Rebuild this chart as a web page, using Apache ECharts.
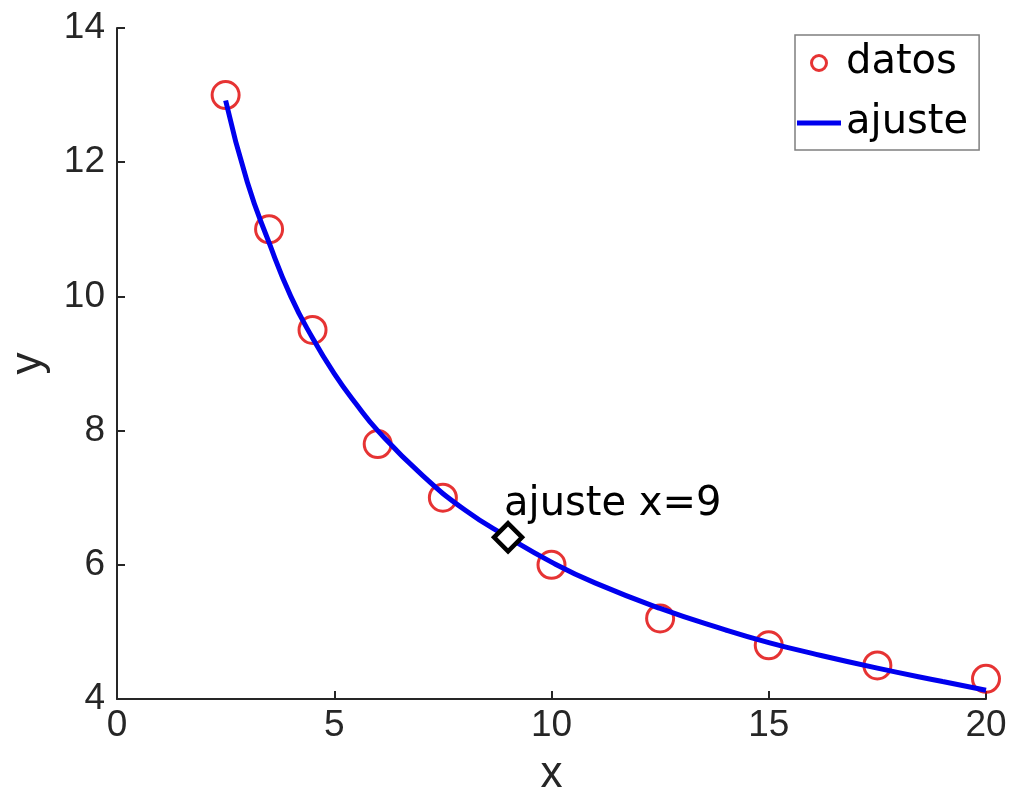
<!DOCTYPE html>
<html>
<head>
<meta charset="utf-8">
<script src="https://cdn.jsdelivr.net/npm/echarts@6/dist/echarts.min.js"></script>
<style>html,body{margin:0;padding:0;background:#fff;}#chart{width:1018px;height:795px;}</style>
</head>
<body>
<div id="chart"></div>
<script>
// Measured data points (datos)
const datosX = [2.5, 3.5, 4.5, 6, 7.5, 10, 12.5, 15, 17.5, 20];
const datosY = [13.0, 11.0, 9.5, 7.8, 7.0, 6.0, 5.2, 4.8, 4.5, 4.3];
// Fitted curve (ajuste)
const ajusteX = [2.5, 3, 3.5, 4, 4.5, 5, 5.5, 6, 7, 8, 9, 10, 11, 12.5, 14, 15, 16, 17.5, 19, 20];
const ajusteY = [12.92, 11.7, 10.8, 10.0, 9.38, 8.85, 8.4, 8.0, 7.35, 6.82, 6.41, 6.04, 5.73, 5.35, 5.03, 4.84, 4.68, 4.46, 4.26, 4.13];
// Annotated point
const markX = [9];
const markY = [6.41];
const markLabel = 'ajuste x=9';
const xTicks = [0, 5, 10, 15, 20];
const yTicks = [4, 6, 8, 10, 12, 14];

const FONT = '"Liberation Sans", Arial, sans-serif';
const FONT2 = '"DejaVu Sans", sans-serif';
const AX = '#262626';

const chart = echarts.init(document.getElementById('chart'), null, {renderer: 'canvas'});
chart.setOption({
  backgroundColor: '#ffffff',
  animation: false,
  grid: {left: 117, right: 32, top: 28, bottom: 96, containLabel: false, outerBoundsMode: 'none'},
  xAxis: {
    type: 'value', min: xTicks[0], max: xTicks[xTicks.length - 1], interval: 5,
    name: 'x', nameLocation: 'middle', nameGap: 54,
    nameTextStyle: {fontFamily: FONT, fontSize: 44, color: AX},
    axisLine: {show: true, lineStyle: {color: AX, width: 2}},
    axisTick: {show: true, inside: true, length: 8, lineStyle: {color: AX, width: 2}},
    axisLabel: {fontFamily: FONT, fontSize: 37, color: AX, margin: 8},
    splitLine: {show: false}
  },
  yAxis: {
    type: 'value', min: yTicks[0], max: yTicks[yTicks.length - 1], interval: 2,
    name: 'y', nameLocation: 'middle', nameGap: 66,
    nameTextStyle: {fontFamily: FONT, fontSize: 44, color: AX},
    axisLine: {show: true, lineStyle: {color: AX, width: 2}},
    axisTick: {show: true, inside: true, length: 8, lineStyle: {color: AX, width: 2}},
    axisLabel: {fontFamily: FONT, fontSize: 37, color: AX, margin: 12},
    splitLine: {show: false}
  },
  legend: {
    left: 795, top: 35, orient: 'vertical',
    padding: [8, 11, 7, 2],
    itemWidth: 44, itemHeight: 15, itemGap: 20,
    borderColor: '#7f7f7f', borderWidth: 1.5, backgroundColor: '#ffffff',
    textStyle: {fontFamily: FONT2, fontSize: 40, color: '#000'},
    data: [
      {name: 'datos', icon: 'circle', itemStyle: {color: 'rgba(0,0,0,0)', borderColor: '#e00000', borderWidth: 3}},
      {name: 'ajuste', icon: 'path://M0,0H44V5H0Z', itemStyle: {color: '#0000ee'}}
    ]
  },
  series: [
    {
      name: 'ajuste', type: 'line', smooth: true, symbol: 'none', z: 3,
      data: ajusteX.map((x, i) => [x, ajusteY[i]]),
      lineStyle: {color: '#0000ee', width: 5},
      itemStyle: {color: '#0000ee'}
    },
    {
      name: 'datos', type: 'scatter', symbol: 'circle', symbolSize: 27, z: 2,
      data: datosX.map((x, i) => [x, datosY[i]]),
      itemStyle: {color: 'rgba(0,0,0,0)', borderColor: '#e00000', borderWidth: 3}
    },
    {
      name: 'marca', type: 'scatter', symbol: 'diamond', symbolSize: 28, z: 5,
      data: markX.map((x, i) => [x, markY[i]]),
      itemStyle: {color: '#ffffff', borderColor: '#000000', borderWidth: 4.5, opacity: 1},
      label: {
        show: true, position: 'inside', align: 'left', verticalAlign: 'middle',
        offset: [-4, -33], formatter: markLabel,
        fontFamily: FONT2, fontSize: 40, color: '#000000'
      }
    }
  ]
});
</script>
</body>
</html>
